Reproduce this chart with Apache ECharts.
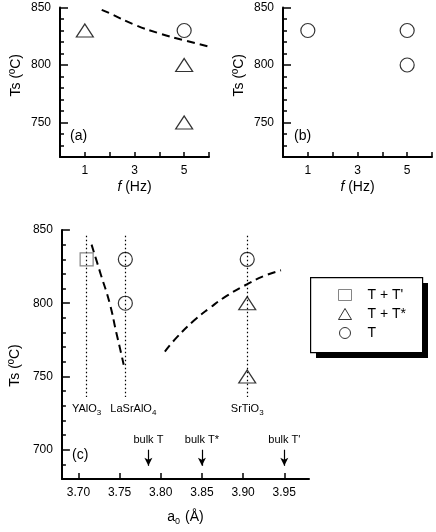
<!DOCTYPE html>
<html>
<head>
<meta charset="utf-8">
<script src="https://cdn.jsdelivr.net/npm/echarts@6/dist/echarts.min.js"></script>
<style>
  html, body { margin: 0; padding: 0; background: #fff; }
  #chart { width: 436px; height: 532px; }
</style>
</head>
<body>
<div id="chart"></div>
<script>
// panel (a) / (b): Ts vs frequency
const aTriangles = [[1, 830], [5, 800], [5, 750]]
const aCircles = [[5, 830]]
const aBoundary = [[1.68, 848], [2, 845], [3, 835], [4, 827.5], [5, 821.5], [6, 816]]
const bCircles = [[1, 830], [5, 830], [5, 800]]
// panel (c): Ts vs lattice parameter
const cSquares = [[3.71, 830]]
const cTriangles = [[3.905, 800], [3.905, 750]]
const cCircles = [[3.757, 830], [3.757, 800], [3.905, 830]]
const cBoundaryLeft = [[3.716, 840], [3.727, 820], [3.738, 800], [3.746, 780], [3.751, 768], [3.755, 758]]
const cBoundaryRight = [[3.805, 767], [3.82, 777], [3.84, 788], [3.86, 797], [3.88, 805], [3.905, 813], [3.925, 818.5], [3.946, 822.5]]
const substrateNames = ['YAlO', 'LaSrAlO', 'SrTiO']
const substrateSub = ['3', '4', '3']
const substrateA = [3.71, 3.757, 3.905]
const substrateTop = 846
const substrateBottom = 736
const bulkNames = ['bulk T', 'bulk T*', "bulk T'"]
const bulkA = [3.785, 3.85, 3.95]
const bulkFrom = 700
const bulkTo = 689
// ticks
const freqLabels = [1, 3, 5]
const freqTicks = [1, 2, 3, 4, 5, 6]
const tsLabelsTop = [750, 800, 850]
const tsLabelsBottom = [700, 750, 800, 850]
const latticeTicks = [3.70, 3.75, 3.80, 3.85, 3.90, 3.95]

const FONT = '"Liberation Sans", Arial, Helvetica, sans-serif'
const black = '#000'

function tsAxes (g, min, labels, namePad) {
  return [{
    gridIndex: g,
    type: 'value',
    position: 'left',
    min: min,
    max: 850,
    name: 'Ts (ºC)',
    nameLocation: 'middle',
    nameGap: 37,
    nameTextStyle: { fontSize: 14, color: black, padding: namePad },
    axisLine: { show: true, lineStyle: { color: black, width: 2 } },
    axisTick: { show: true, inside: true, length: 8, customValues: labels, lineStyle: { color: black, width: 1.5 } },
    axisLabel: { customValues: labels, fontSize: 12, color: black, margin: 9 },
    splitLine: { show: false }
  }, {
    gridIndex: g,
    type: 'value',
    position: 'left',
    min: min,
    max: 850,
    interval: 10,
    axisLine: { show: false },
    axisTick: { show: true, inside: true, length: 4, lineStyle: { color: black, width: 1.5 } },
    axisLabel: { show: false },
    splitLine: { show: false }
  }]
}

function freqAxis (g) {
  return {
    gridIndex: g,
    type: 'value',
    min: 0,
    max: 6,
    interval: 1,
    name: '{i|f} (Hz)',
    nameLocation: 'middle',
    nameGap: 23,
    nameTextStyle: {
      fontSize: 14, color: black,
      rich: { i: { fontSize: 14, fontStyle: 'italic', color: black } }
    },
    axisLine: { show: true, lineStyle: { color: black, width: 2 } },
    axisTick: { show: true, inside: true, length: 5, customValues: freqTicks, lineStyle: { color: black, width: 1.5 } },
    axisLabel: { customValues: freqLabels, fontSize: 12, color: black, margin: 8 },
    splitLine: { show: false }
  }
}

function scatter (name, data, x, y, symbol, size, color) {
  return {
    name: name,
    type: 'scatter',
    xAxisIndex: x,
    yAxisIndex: y,
    data: data,
    symbol: symbol,
    symbolSize: size,
    itemStyle: { color: 'rgba(0,0,0,0)', borderColor: color || black, borderWidth: 1.2 },
    emphasis: { disabled: true },
    z: 5
  }
}

function dashed (data, x, y) {
  return {
    type: 'line',
    xAxisIndex: x,
    yAxisIndex: y,
    data: data,
    smooth: true,
    symbol: 'none',
    lineStyle: { color: black, width: 2, type: [8, 5] },
    silent: true
  }
}

const substrateLines = substrateA.map((a, i) => [
  {
    coord: [a, substrateTop],
    name: '{n|' + substrateNames[i] + '}{s|' + substrateSub[i] + '}',
    label: i === 1 ? { padding: [0, 0, 0, 16] } : {}
  },
  { coord: [a, substrateBottom] }
])

const bulkArrows = bulkA.map((a, i) => [
  { coord: [a, bulkFrom], name: bulkNames[i] },
  { coord: [a, bulkTo] }
])

const option = {
  animation: false,
  textStyle: { fontFamily: FONT },
  grid: [
    { left: 60, top: 7.5, width: 149, height: 149.5 },
    { left: 283, top: 7.5, width: 149, height: 149.5 },
    { left: 60, top: 230, width: 249, height: 249 }
  ],
  xAxis: [
    freqAxis(0),
    freqAxis(1),
    {
      gridIndex: 2,
      type: 'value',
      min: 3.68,
      max: 3.98,
      name: '{n|a}{s|0} (Å)',
      nameLocation: 'middle',
      nameGap: 29,
      nameTextStyle: {
        fontSize: 14, color: black,
        rich: {
          n: { fontSize: 14, color: black },
          s: { fontSize: 9, color: black, verticalAlign: 'bottom', padding: [9, 1, 0, 0] }
        }
      },
      axisLine: { show: true, lineStyle: { color: black, width: 2 } },
      axisTick: { show: true, inside: true, length: 6, customValues: latticeTicks, lineStyle: { color: black, width: 1.5 } },
      axisLabel: { customValues: latticeTicks, fontSize: 12, color: black, margin: 8, formatter: v => v.toFixed(2) },
      splitLine: { show: false }
    }
  ],
  yAxis: [].concat(
    tsAxes(0, 720, tsLabelsTop, [0, 0, 0, 14]),
    tsAxes(1, 720, tsLabelsTop, [0, 0, 0, 14]),
    tsAxes(2, 680, tsLabelsBottom, [0, 22, 0, 0])
  ),
  legend: {
    data: ["T + T'", 'T + T*', 'T'],
    orient: 'vertical',
    left: 310,
    top: 277,
    z: 10,
    padding: [11, 14, 10, 28],
    itemGap: 5,
    itemWidth: 13,
    itemHeight: 11,
    itemStyle: { borderWidth: 1 },
    selectedMode: false,
    textStyle: { fontSize: 14, color: black, padding: [0, 0, 0, 11] }
  },
  graphic: [
    { type: 'rect', left: 316, top: 283, z: 1, shape: { width: 112, height: 75 }, style: { fill: black } },
    { type: 'rect', left: 310, top: 277, z: 2, shape: { width: 112, height: 75 }, style: { fill: '#fff', stroke: black, lineWidth: 1.2 } },
    { type: 'text', left: 70, top: 129, style: { text: '(a)', font: '14px ' + FONT, fill: black } },
    { type: 'text', left: 294, top: 129, style: { text: '(b)', font: '14px ' + FONT, fill: black } },
    { type: 'text', left: 72, top: 448, style: { text: '(c)', font: '14px ' + FONT, fill: black } }
  ],
  series: [
    dashed(aBoundary, 0, 0),
    scatter('T + T*', aTriangles, 0, 0, 'triangle', [17, 13]),
    scatter('T', aCircles, 0, 0, 'circle', 14),
    scatter('T', bCircles, 1, 2, 'circle', 14),
    dashed(cBoundaryLeft, 2, 4),
    dashed(cBoundaryRight, 2, 4),
    {
      type: 'line',
      xAxisIndex: 2,
      yAxisIndex: 4,
      data: [],
      silent: true,
      markLine: {
        silent: true,
        symbol: ['none', 'none'],
        lineStyle: { color: black, width: 1.2, type: [1.5, 2.5] },
        label: {
          show: true,
          position: 'end',
          distance: 4,
          formatter: p => p.name,
          color: black,
          rich: {
            n: { fontSize: 11, color: black },
            s: { fontSize: 8, color: black, verticalAlign: 'bottom', padding: [8, 0, 0, 0] }
          }
        },
        emphasis: { disabled: true },
        data: substrateLines
      }
    },
    {
      type: 'line',
      xAxisIndex: 2,
      yAxisIndex: 4,
      data: [],
      silent: true,
      markLine: {
        silent: true,
        symbol: ['none', 'arrow'],
        symbolSize: [6, 8],
        lineStyle: { color: black, width: 1.2, type: 'solid' },
        itemStyle: { color: black },
        label: { show: true, position: 'start', distance: 4, formatter: p => p.name, fontSize: 11, color: black },
        emphasis: { disabled: true },
        data: bulkArrows
      }
    },
    scatter("T + T'", cSquares, 2, 4, 'rect', 13, '#666'),
    scatter('T + T*', cTriangles, 2, 4, 'triangle', [17, 13]),
    scatter('T', cCircles, 2, 4, 'circle', 14)
  ]
}

const chart = echarts.init(document.getElementById('chart'), null, { renderer: 'canvas' })
chart.setOption(option)
</script>
</body>
</html>
